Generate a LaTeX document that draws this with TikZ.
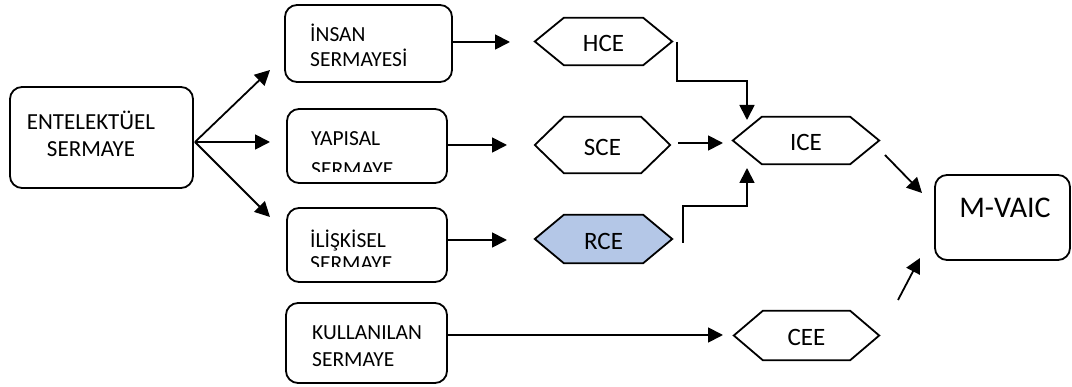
\documentclass[tikz,border=0pt]{standalone}
\usepackage{fontspec}
\setmainfont{Carlito}
\usetikzlibrary{arrows.meta,backgrounds}
\tikzset{
  box/.style={draw, line width=1.8pt, rounded corners=12pt, inner sep=0pt},
  smalltxt/.style={align=left, anchor=base west, inner sep=0pt},
  hexnode/.style={draw=none, inner sep=0pt, font=\fontsize{25}{30}\selectfont, text height=21pt, text depth=0pt},
  hexline/.style={draw, line width=1.8pt},
  conn/.style={line width=1.8pt, -{Triangle[length=15pt,width=15pt]}}
}
\newcommand\hexdraw[2][]{%
  \path[hexline,#1] (#2.west) -- ([xshift=29pt]#2.north west) -- ([xshift=-29pt]#2.north east)
    -- (#2.east) -- ([xshift=-29pt]#2.south east) -- ([xshift=29pt]#2.south west) -- cycle;}
\begin{document}
\begin{tikzpicture}[x=1pt,y=-1pt]
\useasboundingbox (0,0) rectangle (1072,387);

% boxes
\node[box, minimum width=183pt, minimum height=101pt] (ent) at (101.5,137.5) {};
\node[font=\fontsize{23}{27}\selectfont, align=center, anchor=base, inner sep=0pt] (enttxt) at (91,157) {ENTELEKT\"UEL\\SERMAYE};

\node[box, minimum width=167pt, minimum height=77pt] (insan) at (368.5,43.5) {};
\node[smalltxt, font=\fontsize{21.5}{25}\selectfont] (insantxt) at (310,67) {İNSAN\\SERMAYESİ};

\node[box, minimum width=160pt, minimum height=74pt] (yap) at (367,146) {};
\begin{scope}
  \clip (286,109) rectangle (447,171.5);
  \node[smalltxt, font=\fontsize{21.5}{31}\selectfont] (yaptxt) at (311,177) {YAPISAL\\SERMAYE};
\end{scope}

\node[box, minimum width=160pt, minimum height=74pt] (ilis) at (367,245) {};
\begin{scope}
  \clip (286,208) rectangle (447,267);
  \node[smalltxt, font=\fontsize{21.5}{23.5}\selectfont] (ilistxt) at (310,271) {İLİŞKİSEL\\SERMAYE};
\end{scope}

\node[box, minimum width=161pt, minimum height=80pt] (kull) at (366.5,343) {};
\node[smalltxt, font=\fontsize{21.5}{27}\selectfont] (kulltxt) at (312,367) {KULLANILAN\\SERMAYE};

\node[box, minimum width=135pt, minimum height=85pt] (mvaic) at (1002.5,217.5) {};
\node[font=\fontsize{30}{36}\selectfont, inner sep=0pt] (mvaictxt) at (1005,208) {M-VAIC};

% hexagons
\node[hexnode, minimum width=137pt, minimum height=47pt] (hce) at (603.5,41.5) {HCE};
\node[hexnode, minimum width=135pt, minimum height=56pt] (sce) at (602.5,145) {SCE};
\node[hexnode, minimum width=137pt, minimum height=48pt] (rce) at (603.5,239) {RCE};
\node[hexnode, minimum width=146pt, minimum height=47pt] (ice) at (806,140.5) {ICE};
\node[hexnode, minimum width=145pt, minimum height=49pt] (cee) at (806.5,335.5) {CEE};
\begin{scope}[on background layer]
  \hexdraw{hce}
  \hexdraw{sce}
  \hexdraw[fill={rgb,255:red,180;green,199;blue,231}]{rce}
  \hexdraw{ice}
  \hexdraw{cee}
\end{scope}

% connector coordinates
\coordinate (eo) at (195,142);
\coordinate (t1) at (270,70);
\coordinate (t2) at (270,142);
\coordinate (t3) at (270,217);
\coordinate (a1) at (510,42);
\coordinate (a2) at (507,145);
\coordinate (a3) at (507,240);
\coordinate (a4) at (723,335);
\coordinate (h0) at (677,42);
\coordinate (h1) at (677,81);
\coordinate (h2) at (747,81);
\coordinate (h3) at (747,120);
\coordinate (s0) at (678,143);
\coordinate (s1) at (723,143);
\coordinate (r0) at (683,243);
\coordinate (r1) at (683,206);
\coordinate (r2) at (747,206);
\coordinate (r3) at (747,168);
\coordinate (i0) at (885,155);
\coordinate (i1) at (922,193);
\coordinate (c0) at (898,300);
\coordinate (c1) at (920,258);

% connectors
\draw[conn] (eo) -- (t1);
\draw[conn] (eo) -- (t2);
\draw[conn] (eo) -- (t3);
\draw[conn] (insan.east |- a1) -- (a1);
\draw[conn] (yap.east |- a2) -- (a2);
\draw[conn] (ilis.east |- a3) -- (a3);
\draw[conn] (kull.east |- a4) -- (a4);
\draw[conn] (h0) -- (h1) -- (h2) -- (h3);
\draw[conn] (s0) -- (s1);
\draw[conn] (r0) -- (r1) -- (r2) -- (r3);
\draw[conn] (i0) -- (i1);
\draw[conn] (c0) -- (c1);
\end{tikzpicture}
\end{document}
